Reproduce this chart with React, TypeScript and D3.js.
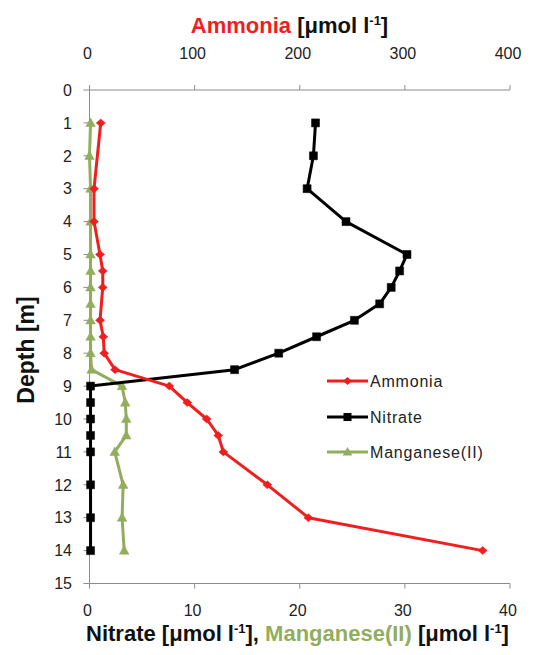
import React from 'react';
import * as d3 from 'd3';

const ammoniaDepth = [1, 3, 4, 5, 5.5, 6, 7, 7.5, 8, 8.5, 9, 9.5, 10, 10.5, 11, 12, 13, 14];
const ammoniaValue = [10.7, 4.3, 4.3, 10, 12.6, 12.6, 10, 13.1, 14, 24.3, 75.9, 93, 111.5, 122.5, 127.3, 169.2, 208.2, 374];
const nitrateDepth = [1, 2, 3, 4, 5, 5.5, 6, 6.5, 7, 7.5, 8, 8.5, 9, 9.5, 10, 10.5, 11, 12, 13, 14];
const nitrateValue = [21.5, 21.3, 20.7, 24.4, 30.2, 29.5, 28.7, 27.6, 25.2, 21.6, 18.0, 13.8, 0.1, 0.1, 0.1, 0.1, 0.1, 0.1, 0.1, 0.1];
const manganeseDepth = [1, 2, 3, 4, 5, 5.5, 6, 6.5, 7, 7.5, 8, 8.5, 9, 9.5, 10, 10.5, 11, 12, 13, 14];
const manganeseValue = [0.1, 0.0, 0.1, 0.1, 0.1, 0.1, 0.1, 0.1, 0.1, 0.1, 0.1, 0.2, 3.1, 3.4, 3.5, 3.5, 2.4, 3.2, 3.1, 3.3];
const depthTicks = [0, 1, 2, 3, 4, 5, 6, 7, 8, 9, 10, 11, 12, 13, 14, 15];
const topTicks = [0, 100, 200, 300, 400];
const bottomTicks = [0, 10, 20, 30, 40];
const legendNames = ['Ammonia', 'Nitrate', 'Manganese(II)'];

const RED = '#F01E1E';
const BLACK = '#000000';
const GREEN = '#92AD5C';
const AXIS = '#8C8C8C';
const FONT = '"Liberation Sans", Arial, sans-serif';

const X0 = 89.5, X1 = 510, Y0 = 90, Y1 = 583.5;

const diamond = 'M0,-4 L4.5,0 L0,4 L-4.5,0 Z';
const square = 'M-4,-4 L4,-4 L4,4 L-4,4 Z';
const triangle = 'M0,-5 L4.8,3.6 L-4.8,3.6 Z';

export default function App() {
  const xTop = d3.scaleLinear().domain([0, 400]).range([X0, X1]);
  const xBot = d3.scaleLinear().domain([0, 40]).range([X0, X1]);
  const y = d3.scaleLinear().domain([0, 15]).range([Y0, Y1]);

  const ammonia = ammoniaDepth.map((d, i) => [xTop(ammoniaValue[i]), y(d)] as [number, number]);
  const nitrate = nitrateDepth.map((d, i) => [xBot(nitrateValue[i]), y(d)] as [number, number]);
  const manganese = manganeseDepth.map((d, i) => [xBot(manganeseValue[i]), y(d)] as [number, number]);
  const line = d3.line();

  const series = [
    { pts: manganese, color: GREEN, marker: triangle },
    { pts: nitrate, color: BLACK, marker: square },
    { pts: ammonia, color: RED, marker: diamond },
  ];

  const legend = [
    { name: legendNames[0], color: RED, marker: diamond, y: 381 },
    { name: legendNames[1], color: BLACK, marker: square, y: 417 },
    { name: legendNames[2], color: GREEN, marker: triangle, y: 452 },
  ];

  return (
    <svg width={544} height={655} style={{ position: 'absolute', left: 0, top: 0, background: '#fff' }} fontFamily={FONT}>
      <rect x={0} y={0} width={544} height={655} fill="#fff" />
      {/* axes */}
      <line x1={X0} x2={X1} y1={Y0} y2={Y0} stroke={AXIS} strokeWidth={1} />
      <line x1={X0} x2={X1} y1={Y1} y2={Y1} stroke={AXIS} strokeWidth={1} />
      <line x1={X0} x2={X0} y1={Y0} y2={Y1} stroke={AXIS} strokeWidth={1} />
      {topTicks.map((t) => (
        <g key={'tt' + t}>
          <line x1={xTop(t)} x2={xTop(t)} y1={Y0 - 5} y2={Y0} stroke={AXIS} />
          <text x={xTop(t) - 2} y={59} textAnchor="middle" fontSize={16} fill="#222">{t}</text>
        </g>
      ))}
      {bottomTicks.map((t) => (
        <g key={'bt' + t}>
          <line x1={xBot(t)} x2={xBot(t)} y1={Y1} y2={Y1 + 5} stroke={AXIS} />
          <text x={xBot(t) - 2} y={616} textAnchor="middle" fontSize={16} fill="#222">{t}</text>
        </g>
      ))}
      {depthTicks.map((t) => (
        <g key={'dt' + t}>
          <line x1={X0 - 6} x2={X0} y1={y(t)} y2={y(t)} stroke={AXIS} />
          <text x={72} y={y(t) + 5.7} textAnchor="end" fontSize={16} fill="#222">{t}</text>
        </g>
      ))}

      {/* series */}
      {series.map((s, i) => (
        <g key={'s' + i}>
          <path d={line(s.pts) || ''} fill="none" stroke={s.color} strokeWidth={3} strokeLinejoin="round" />
          {s.pts.map((p, j) => (
            <path key={j} d={s.marker} transform={`translate(${p[0]},${p[1]})`} fill={s.color} stroke={s.color} strokeWidth={0.5} />
          ))}
        </g>
      ))}

      {/* legend */}
      {legend.map((l) => (
        <g key={l.name}>
          <line x1={327} x2={368} y1={l.y} y2={l.y} stroke={l.color} strokeWidth={3} />
          <path d={l.marker} transform={`translate(347.5,${l.y})`} fill={l.color} />
          <text x={370} y={l.y + 5.5} fontSize={16} letterSpacing={0.8} fill="#222">{l.name}</text>
        </g>
      ))}

      {/* titles */}
      <text x={289.5} y={33} textAnchor="middle" fontSize={22} fontWeight="bold">
        <tspan fill={RED}>Ammonia</tspan>
        <tspan fill="#111"> [μmol l</tspan>
        <tspan fill="#111" fontSize={13} dy={-8}>-1</tspan>
        <tspan fill="#111" dy={8}>]</tspan>
      </text>
      <text x={297.5} y={641} textAnchor="middle" fontSize={22} fontWeight="bold">
        <tspan fill="#111">Nitrate [μmol l</tspan>
        <tspan fill="#111" fontSize={13} dy={-8}>-1</tspan>
        <tspan fill="#111" dy={8}>], </tspan>
        <tspan fill={GREEN}>Manganese(II)</tspan>
        <tspan fill="#111"> [μmol l</tspan>
        <tspan fill="#111" fontSize={13} dy={-8}>-1</tspan>
        <tspan fill="#111" dy={8}>]</tspan>
      </text>
      <text transform={`translate(34,350) rotate(-90)`} textAnchor="middle" fontSize={23} fontWeight="bold" fill="#111">
        Depth [m]
      </text>
    </svg>
  );
}
